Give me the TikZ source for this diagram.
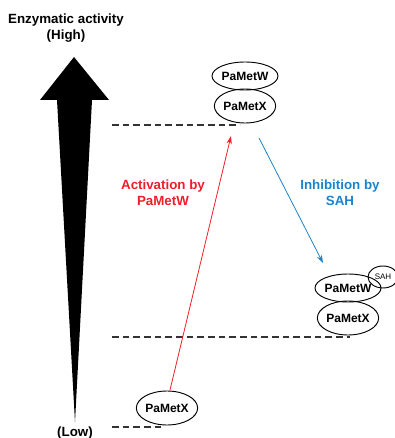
\documentclass[tikz,border=0pt]{standalone}
\usepackage{fontspec}
\setmainfont{Liberation Sans}
\usetikzlibrary{shapes.geometric,arrows.meta}
\definecolor{actred}{RGB}{240,30,40}
\definecolor{inhblue}{RGB}{30,130,200}
\begin{document}
\begin{tikzpicture}[x=0.75pt,y=-0.75pt,
  enz/.style={ellipse,draw,line width=0.7pt,inner sep=0pt,font=\bfseries\fontsize{9}{10}\selectfont},
  lbl/.style={font=\bfseries\fontsize{10}{12}\selectfont,align=center},
  dline/.style={dashed,line width=1pt,dash pattern=on 5pt off 3pt,black!80},
  conn/.style={line width=0.6pt,-{Stealth[length=6pt,width=4pt]}}]
\useasboundingbox (0,0) rectangle (395,438);
% big arrow
\fill[black] (74,57) -- (109,100) -- (92,100) -- (75,422) -- (57,100) -- (40,100) -- cycle;
\node[lbl] (high) at (66,28) {Enzymatic activity\\(High)};
\node[lbl] (low) at (75,433) {(Low)};
% dashed levels
\coordinate (d1a) at (112,125); \coordinate (d1b) at (240,125);
\coordinate (d2a) at (112,337); \coordinate (d2b) at (350,337);
\coordinate (d3a) at (112,427); \coordinate (d3b) at (165,427);
\draw[dline] (d1a) -- (d1b);
\draw[dline] (d2a) -- (d2b);
\draw[dline] (d3a) -- (d3b);
% enzymes
\node[enz,minimum width=56*0.75pt,minimum height=28*0.75pt] (topW) at (245,76) {PaMetW};
\node[enz,minimum width=53*0.75pt,minimum height=34*0.75pt] (topX) at (245,106) {PaMetX};
\node[enz,minimum width=56*0.75pt,minimum height=28*0.75pt] (rW) at (348,288) {PaMetW};
\node[enz,minimum width=30*0.75pt,minimum height=22*0.75pt,font=\fontsize{6}{7}\selectfont] (sah) at (383,277) {SAH};
\node[enz,minimum width=56*0.75pt,minimum height=34*0.75pt] (rX) at (348,318) {PaMetX};
\node[enz,minimum width=57*0.75pt,minimum height=34*0.75pt] (bX) at (167,408) {PaMetX};
% arrows
\coordinate (redS) at (170,390); \coordinate (redE) at (231,136);
\coordinate (blueS) at (259,138); \coordinate (blueE) at (323,263);
\draw[conn,actred] (redS) -- (redE);
\draw[conn,inhblue] (blueS) -- (blueE);
\node[lbl,text=actred] (act) at (163,193) {Activation by\\PaMetW};
\node[lbl,text=inhblue] (inh) at (340,193) {Inhibition by\\SAH};
\end{tikzpicture}
\end{document}
